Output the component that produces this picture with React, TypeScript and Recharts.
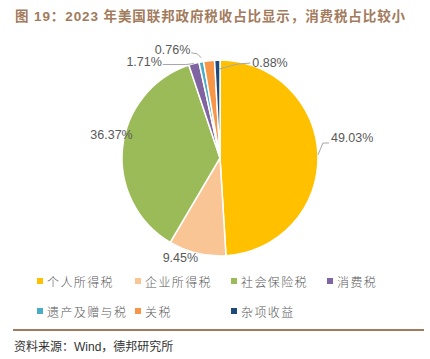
import React from "react";
import { PieChart, Pie, Cell, Legend } from "recharts";

const taxNames = [
  "个人所得税",
  "企业所得税",
  "社会保险税",
  "消费税",
  "遗产及赠与税",
  "关税",
  "杂项收益",
];
const taxShares = [49.03, 9.45, 36.37, 1.71, 0.76, 1.8, 0.88];
const taxLabels = ["49.03%", "9.45%", "36.37%", "1.71%", "0.76%", "", "0.88%"];
const colors = ["#FFC000", "#F9C595", "#9BBB59", "#8064A2", "#4BACC6", "#F79646", "#1F497D"];

const data = taxNames.map((name, i) => ({ name, value: taxShares[i], label: taxLabels[i] }));

// label placement relative to the slice edge point
const labelPlace: { dx: number; dy: number; anchor: string; line?: number[][] }[] = [
  { dx: 13, dy: -17, anchor: "start", line: [[0, 0], [5, -12], [11, -12]] },
  { dx: 1, dy: 5, anchor: "end" },
  { dx: -11, dy: -13, anchor: "middle" },
  { dx: -32, dy: -2, anchor: "end", line: [[0, 0], [-8, 1], [-31, 1]] },
  { dx: -11, dy: -12, anchor: "end", line: [[0, -4], [-4, -8], [-10, -9]] },
  { dx: 0, dy: 0, anchor: "start" },
  { dx: 35, dy: 3, anchor: "start", line: [[2, 9], [20, 4], [33, 3]] },
];

const RAD = Math.PI / 180;

const renderLabel = (props: any) => {
  const { cx, cy, midAngle, outerRadius, index } = props;
  const text = taxLabels[index];
  if (!text) return null;
  const ex = cx + outerRadius * Math.cos(-midAngle * RAD);
  const ey = cy + outerRadius * Math.sin(-midAngle * RAD);
  const p = labelPlace[index];
  return (
    <g>
      {p.line && (
        <polyline
          points={p.line.map(([x, y]) => `${ex + x},${ey + y}`).join(" ")}
          fill="none"
          stroke="#A6A6A6"
          strokeWidth={1}
        />
      )}
      <text
        x={ex + p.dx}
        y={ey + p.dy}
        textAnchor={p.anchor as any}
        dominantBaseline="central"
        fill="#595959"
        fontSize={12.5}
        fontFamily="'Liberation Sans', Arial, sans-serif"
      >
        {text}
      </text>
    </g>
  );
};

const legendCols = [37, 135, 231, 327];

const renderLegend = () => (
  <div style={{ position: "relative", width: 430, height: 60 }}>
    {taxNames.map((name, i) => {
      const row = i < 4 ? 0 : 1;
      const col = i < 4 ? i : i - 4;
      return (
        <div
          key={name}
          style={{
            position: "absolute",
            left: legendCols[col],
            top: row * 30,
            display: "flex",
            alignItems: "center",
            height: 18,
          }}
        >
          <span style={{ width: 6, height: 6, background: colors[i], display: "inline-block", marginRight: 4 }} />
          <span
            style={{
              fontSize: 12,
              color: "#595959",
              letterSpacing: 1.4,
              fontFamily: "'Noto Sans CJK SC', sans-serif",
              fontWeight: 300,
            }}
          >
            {name}
          </span>
        </div>
      );
    })}
  </div>
);

export default function App() {
  return (
    <div style={{ position: "absolute", left: 0, top: 0, width: 430, height: 359, background: "#fff" }}>
      <div
        style={{
          position: "absolute",
          left: 15,
          top: 5,
          fontSize: 13.5,
          fontWeight: 700,
          letterSpacing: 0.9,
          color: "#A27B5C",
          fontFamily: "'Liberation Sans', 'Noto Sans CJK SC', sans-serif",
          whiteSpace: "nowrap",
        }}
      >
        图 19：2023 年美国联邦政府税收占比显示，消费税占比较小
      </div>
      <PieChart width={430} height={359}>
        <Pie
          data={data}
          dataKey="value"
          nameKey="name"
          cx={215}
          cy={153}
          outerRadius={98}
          startAngle={90}
          endAngle={-270}
          stroke="#fff"
          strokeWidth={1.5}
          label={renderLabel}
          labelLine={false}
          isAnimationActive={false}
        >
          {data.map((d, i) => (
            <Cell key={d.name} fill={colors[i]} />
          ))}
        </Pie>
        <Legend content={renderLegend} wrapperStyle={{ position: "absolute", left: 0, top: 272, width: 430 }} />
      </PieChart>
      <div
        style={{
          position: "absolute",
          left: 13,
          top: 329,
          width: 411,
          height: 2,
          background: "#A27B5C",
        }}
      />
      <div
        style={{
          position: "absolute",
          left: 14,
          top: 337,
          fontSize: 12,
          color: "#333",
          fontFamily: "'Liberation Sans', 'Noto Sans CJK SC', sans-serif",
          whiteSpace: "nowrap",
        }}
      >
        资料来源：Wind，德邦研究所
      </div>
    </div>
  );
}
